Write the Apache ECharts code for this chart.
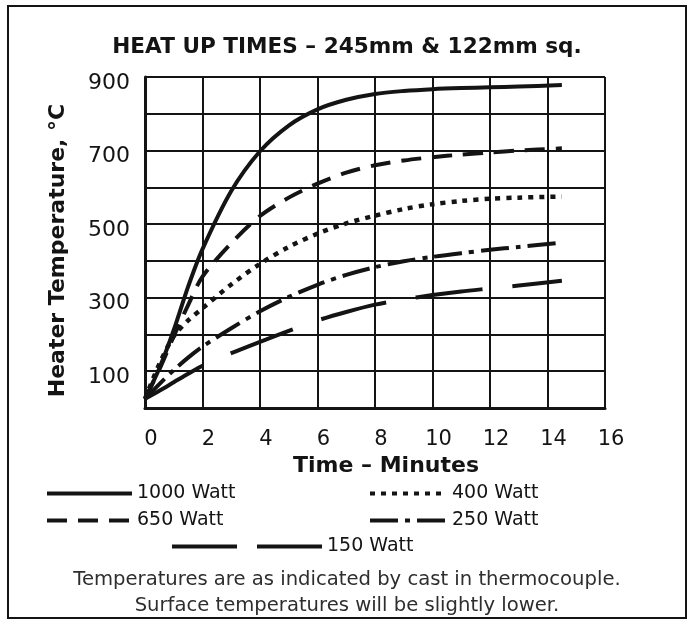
<!DOCTYPE html>
<html>
<head>
<meta charset="utf-8">
<script src="https://cdn.jsdelivr.net/npm/echarts@6/dist/echarts.min.js"></script>
<style>
  html, body { margin: 0; padding: 0; background: #ffffff; }
  #chart { width: 694px; height: 624px; }
</style>
</head>
<body>
<div id="chart"></div>
<script>
// Heat-up curves: heater temperature (°C) against time (minutes)
var timeMinutes = [0, 0.5, 1, 1.5, 2, 3, 4, 5, 6, 7, 8, 9, 10, 11, 12, 13, 14.5];

var watt1000 = [25, 108, 212, 330, 432, 590, 698, 768, 812, 838, 854, 862, 867, 870, 872, 874, 878];
var watt650  = [25, 105, 195, 280, 357, 448, 522, 572, 610, 640, 660, 673, 682, 689, 695, 700, 706];
var watt400  = [25, 120, 195, 238, 271, 336, 392, 438, 474, 502, 523, 541, 554, 563, 569, 572, 575];
var watt250  = [25, 65, 103, 137, 167, 217, 263, 302, 335, 362, 383, 399, 411, 421, 430, 438, 450];
var watt150  = [25, 47, 70, 93, 115, 149, 180, 210, 238, 261, 281, 295, 307, 317, 325, 333, 346];

var seriesNames = ['1000 Watt', '650 Watt', '400 Watt', '250 Watt', '150 Watt'];
var xTicks = { min: 0, max: 16, step: 2 };
var yTicks = { min: 0, max: 900, step: 100 };

var FONT = '"DejaVu Sans", Verdana, sans-serif';
var INK = '#141414';

function pairs(values) {
  return values.map(function (v, i) { return [timeMinutes[i], v]; });
}

function curve(name, values, type, width) {
  return {
    name: name,
    type: 'line',
    data: pairs(values),
    smooth: 0.3,
    symbol: 'none',
    showSymbol: false,
    lineStyle: { color: INK, width: width, type: type, cap: 'butt', join: 'round' },
    itemStyle: { color: INK },
    emphasis: { disabled: true },
    z: 5
  };
}

var chart = echarts.init(document.getElementById('chart'), null, { renderer: 'canvas' });

var legendText = { fontSize: 19, color: INK, fontFamily: FONT, lineHeight: 18 };
var legendCommon = {
  selectedMode: false,
  padding: 0,
  textStyle: legendText,
  itemStyle: { opacity: 0 },
  lineStyle: { width: 4, inactiveWidth: 4, color: INK }
};

chart.setOption({
  animation: false,
  backgroundColor: '#ffffff',
  title: {
    text: 'HEAT UP TIMES \u2013 245mm & 122mm sq.',
    left: 'center',
    top: 31,
    textStyle: { fontSize: 21.6, fontWeight: 'bold', color: INK, fontFamily: FONT }
  },
  grid: { left: 145, top: 77, width: 460, height: 331, containLabel: false },
  xAxis: {
    type: 'value',
    min: xTicks.min,
    max: xTicks.max,
    interval: xTicks.step,
    name: 'Time \u2013 Minutes',
    nameLocation: 'middle',
    nameGap: 39,
    nameTextStyle: { fontSize: 22, fontWeight: 'bold', color: INK, fontFamily: FONT, padding: [0, 0, 0, 22] },
    axisLine: { show: true, lineStyle: { color: INK, width: 3 } },
    axisTick: { show: false },
    axisLabel: { fontSize: 21, color: INK, fontFamily: FONT, margin: 21, padding: [0, 0, 0, 12] },
    splitLine: { show: true, lineStyle: { color: INK, width: 2 } }
  },
  yAxis: {
    type: 'value',
    min: yTicks.min,
    max: yTicks.max,
    interval: yTicks.step,
    name: 'Heater Temperature, \u00B0C',
    nameLocation: 'middle',
    nameGap: 76,
    nameRotate: 90,
    nameTextStyle: { fontSize: 22, fontWeight: 'bold', color: INK, fontFamily: FONT, padding: [0, 16, 0, 0] },
    axisLine: { show: true, lineStyle: { color: INK, width: 3 } },
    axisTick: { show: false },
    axisLabel: {
      fontSize: 22, color: INK, fontFamily: FONT, margin: 15,
      verticalAlign: 'top', lineHeight: 12,
      formatter: function (v) { return (v / 100) % 2 === 1 ? String(v) : ''; }
    },
    splitLine: { show: true, lineStyle: { color: INK, width: 2 } }
  },
  legend: [
    Object.assign({
      data: [seriesNames[0], seriesNames[1]],
      orient: 'vertical', left: 45, top: 484,
      itemWidth: 85, itemHeight: 18, itemGap: 8
    }, legendCommon),
    Object.assign({
      data: [seriesNames[2], seriesNames[3]],
      orient: 'vertical', left: 368, top: 484,
      itemWidth: 77, itemHeight: 18, itemGap: 8
    }, legendCommon),
    Object.assign({
      data: [{ name: seriesNames[4], lineStyle: { type: [65, 20] } }],
      orient: 'horizontal', left: 170, top: 537,
      itemWidth: 150, itemHeight: 18
    }, legendCommon)
  ],
  series: [
    curve(seriesNames[0], watt1000, 'solid', 4),
    curve(seriesNames[1], watt650, [20, 11], 4),
    curve(seriesNames[2], watt400, [5, 6], 4.5),
    curve(seriesNames[3], watt250, [28, 7, 5, 7], 4),
    curve(seriesNames[4], watt150, [67, 30], 4)
  ],
  graphic: [
    {
      type: 'rect',
      shape: { x: 8, y: 6, width: 678, height: 612 },
      style: { fill: 'none', stroke: INK, lineWidth: 2 },
      z: -1
    },
    {
      type: 'text',
      left: 'center',
      top: 567,
      style: {
        text: 'Temperatures are as indicated by cast in thermocouple.\nSurface temperatures will be slightly lower.',
        font: '19.6px ' + FONT,
        fill: '#2e2e2e',
        textAlign: 'center',
        lineHeight: 26
      }
    }
  ]
});
</script>
</body>
</html>
